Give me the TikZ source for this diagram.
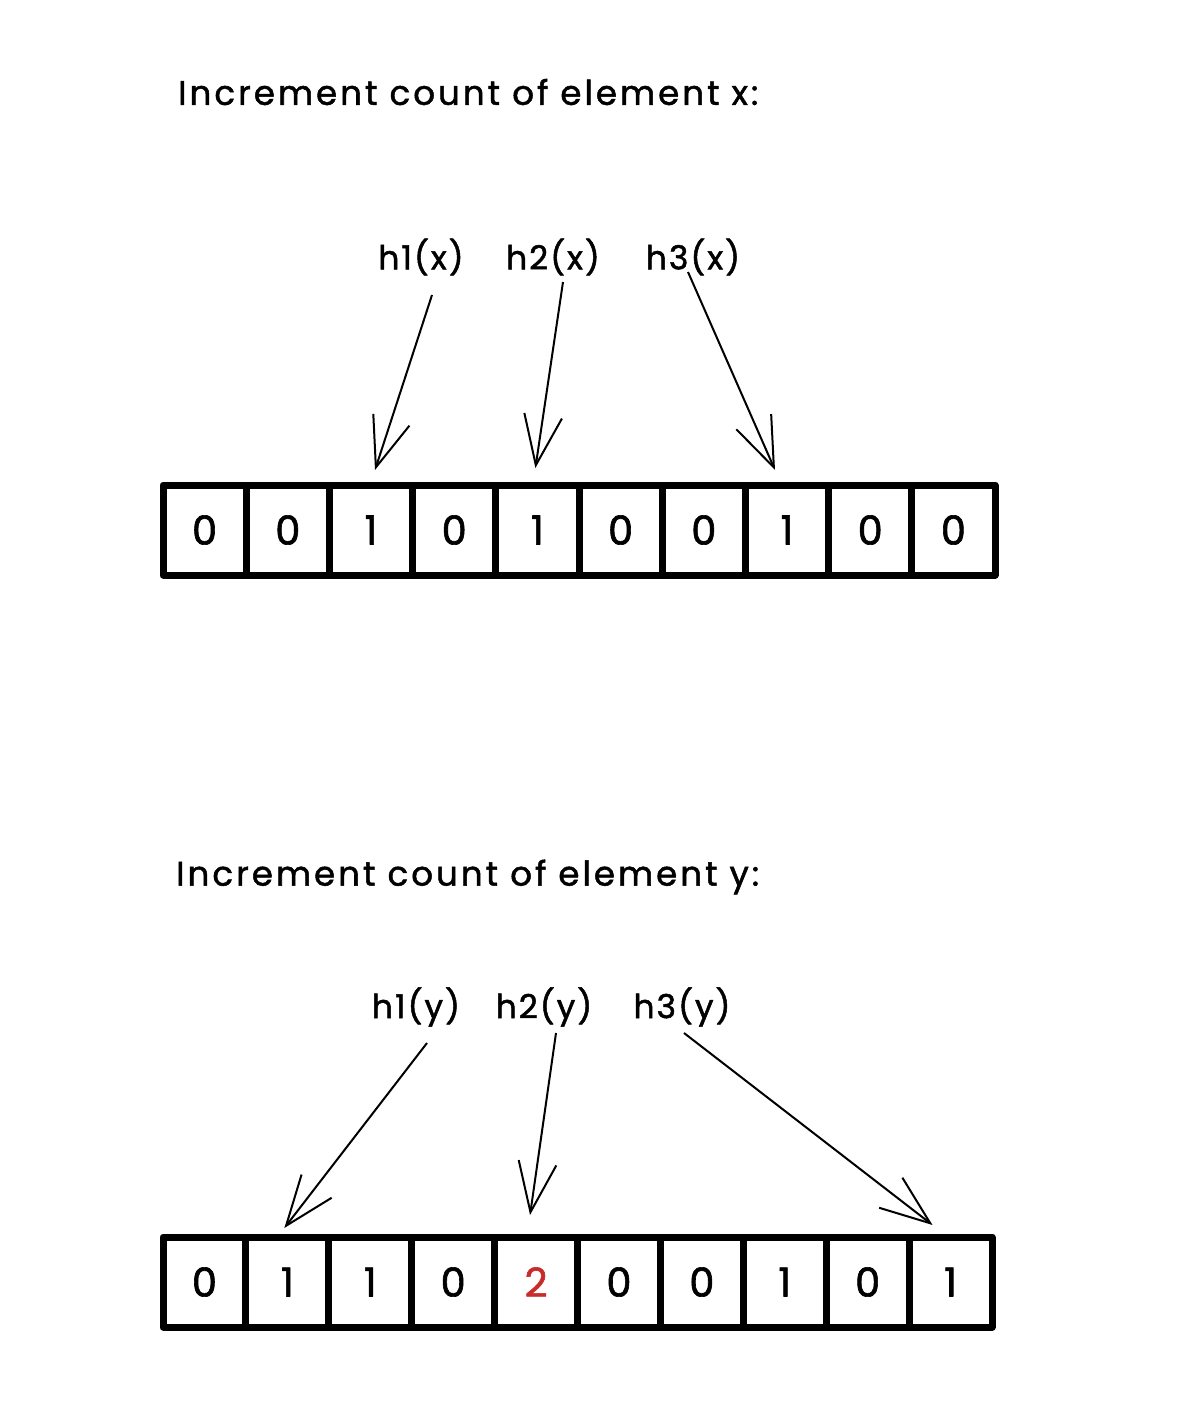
\documentclass[tikz,border=0pt]{standalone}
\usepackage{fontspec}
\setmainfont{Poppins}
\usetikzlibrary{positioning,arrows.meta}
\definecolor{excred}{HTML}{C92A2A}
\tikzset{
  title/.style = {anchor=west, inner sep=0pt,
                  font=\fontsize{34}{38}\selectfont\addfontfeature{LetterSpace=9,FakeBold=1.5}},
  hlabel/.style = {inner sep=0pt,
                   font=\fontsize{33}{36}\selectfont\addfontfeature{LetterSpace=6,FakeBold=1.5}},
  cell/.style = {shape=rectangle, draw, line width=7pt, line join=round,
                 minimum height=90pt, outer sep=0pt, inner sep=0pt,
                 font=\fontsize{40}{44}\selectfont\addfontfeature{FakeBold=1.5}},
  hash/.style = {draw, line width=2pt, -{Straight Barb[length=50pt,width=38pt,line width=2pt]}}
}
\begin{document}
\begin{tikzpicture}[x=1pt, y=-1pt]
  \fill[white] (0,0) rectangle (1196,1424);
  \useasboundingbox (0,0) rectangle (1196,1424);

  % element x
  \node[title] (titlex) at (178,92) {Increment count of element x:};
  \node[hlabel] (h1x) at (421,257) {h1(x)};
  \node[hlabel] (h2x) at (553,257) {h2(x)};
  \node[hlabel] (h3x) at (693,257) {h3(x)};
  \foreach \v [count=\i] in {0,0,1,0,1,0,0,1,0,0}
    \node[cell, minimum width=83.2pt] (t\i) at ({163+83.2*(\i-0.5)},530) {\v};

  \draw[hash] ([xshift=11pt,yshift=-38pt]h1x.center) -- ([xshift=4pt,yshift=15pt]t3.north);
  \draw[hash] ([xshift=10pt,yshift=-25pt]h2x.center) -- ([xshift=-2pt,yshift=17pt]t5.north);
  \draw[hash] ([xshift=-5pt,yshift=-15pt]h3x.center) -- ([xshift=-12pt,yshift=15pt]t8.north);

  % element y
  \node[title] (titley) at (176,877) {Increment count of element y:};
  \node[hlabel] (h1y) at (416,1007) {h1(y)};
  \node[hlabel] (h2y) at (544,1007) {h2(y)};
  \node[hlabel] (h3y) at (682,1007) {h3(y)};
  \foreach \v [count=\i] in {0,1,1,0,{\textcolor{excred}{2}},0,0,1,0,1}
    \node[cell, minimum width=82.9pt] (b\i) at ({163+82.9*(\i-0.5)},1282) {\v};

  \draw[hash] ([xshift=11pt,yshift=-36pt]h1y.center) -- ([xshift=-3pt,yshift=9pt]b2.north);
  \draw[hash] ([xshift=12pt,yshift=-26pt]h2y.center) -- ([xshift=-6pt,yshift=22pt]b5.north);
  \draw[hash] ([xshift=2pt,yshift=-26pt]h3y.center) -- ([xshift=-18pt,yshift=12pt]b10.north);
\end{tikzpicture}
\end{document}
